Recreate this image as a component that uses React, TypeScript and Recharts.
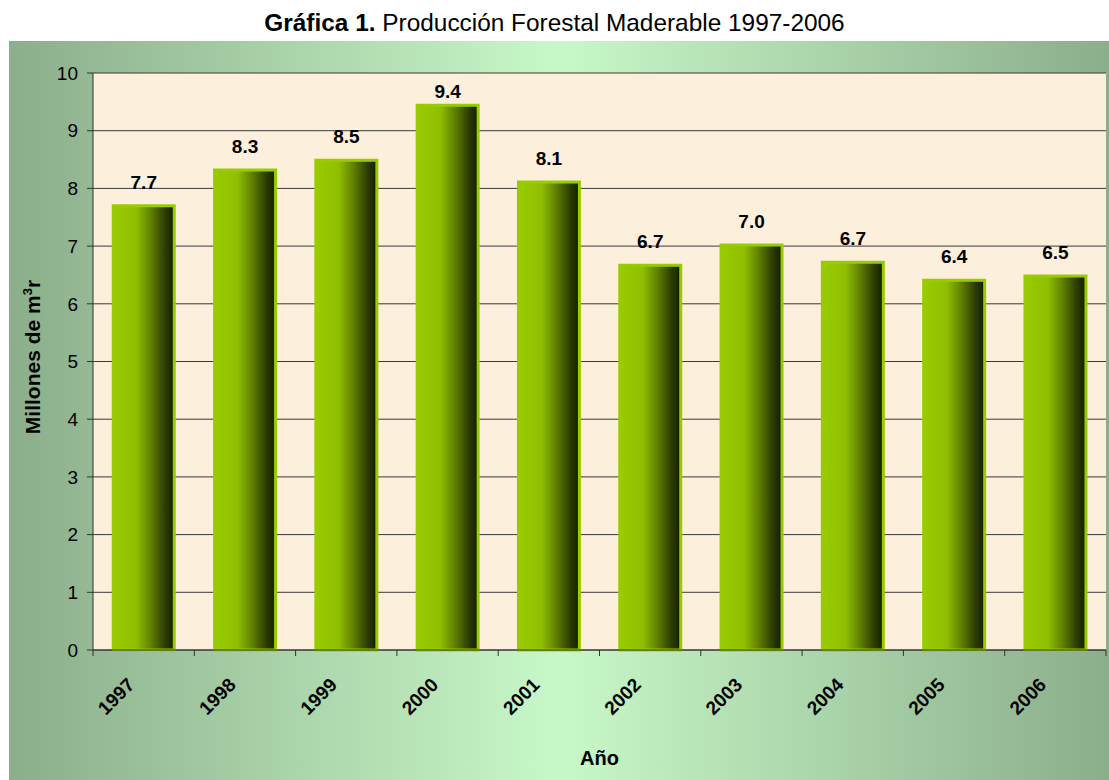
import React from "react";
import { BarChart, Bar, XAxis, YAxis, CartesianGrid, LabelList } from "recharts";

const years = ["1997", "1998", "1999", "2000", "2001", "2002", "2003", "2004", "2005", "2006"];
const production = [7.7, 8.32, 8.49, 9.44, 8.11, 6.67, 7.02, 6.72, 6.41, 6.48];
const yTicks = [0, 1, 2, 3, 4, 5, 6, 7, 8, 9, 10];

const data = years.map((year, i) => ({ year, value: production[i] }));

const FONT = "'Liberation Sans', Arial, sans-serif";
const HALF_BAND = 1013 / years.length / 2;

function YearTick(props: any) {
  const { x, y, payload, index } = props;
  const ax = x - 8;
  const ay = y + 36;
  return (
    <g>
      <line x1={x - HALF_BAND} y1={y} x2={x - HALF_BAND} y2={y + 6} stroke="#333" />
      {index === years.length - 1 && (
        <line x1={x + HALF_BAND} y1={y} x2={x + HALF_BAND} y2={y + 6} stroke="#333" />
      )}
      <text
        x={ax}
        y={ay}
        textAnchor="end"
        transform={`rotate(-45, ${ax}, ${ay})`}
        fontFamily={FONT}
        fontWeight="bold"
        fontSize={19}
        fill="#000"
      >
        {payload.value}
      </text>
    </g>
  );
}

function ValueLabel(props: any) {
  const { x, y, width, value } = props;
  // keep the label inside the plot when the bar nearly reaches the top
  const ty = Math.max(y - 17, 57);
  return (
    <text x={x + width / 2} y={ty} textAnchor="middle" fontFamily={FONT} fontWeight="bold" fontSize={19} fill="#000">
      {Number(value).toFixed(1)}
    </text>
  );
}

export default function App() {
  return (
    <div style={{ position: "absolute", left: 0, top: 0, width: 1109, height: 780, background: "#fff", fontFamily: FONT }}>
      <div style={{ position: "absolute", left: 0, top: 11, width: 1109, textAlign: "center", fontSize: 24.4, lineHeight: "24px", color: "#000" }}>
        <b>Gráfica 1.</b> Producción Forestal Maderable 1997-2006
      </div>
      <div
        style={{
          position: "absolute",
          left: 9,
          top: 41,
          width: 1100,
          height: 739,
          background: "linear-gradient(to right, #8bae8b 0%, #c8f8c8 50%, #8bae8b 100%)",
        }}
      >
        <BarChart
          width={1100}
          height={739}
          data={data}
          margin={{ top: 32, right: 3, bottom: 0, left: 0 }}
          barCategoryGap="20%"
        >
          <defs>
            <linearGradient id="barFill" x1="0" y1="0" x2="1" y2="0">
              <stop offset="0%" stopColor="#99cc00" />
              <stop offset="38%" stopColor="#8fbe00" />
              <stop offset="62%" stopColor="#5f7f00" />
              <stop offset="85%" stopColor="#2c3c00" />
              <stop offset="100%" stopColor="#141c00" />
            </linearGradient>
          </defs>
          <CartesianGrid vertical={false} stroke="#3a3a3a" fill="#fcefdc" fillOpacity={1} />
          <XAxis
            dataKey="year"
            height={130}
            axisLine={{ stroke: "#333" }}
            tickLine={false}
            tickSize={0}
            tickMargin={0}
            tick={<YearTick />}
            interval={0}
            label={{ value: "Año", position: "insideBottom", offset: 15, fontFamily: FONT, fontWeight: "bold", fontSize: 20, fill: "#000" }}
          />
          <YAxis
            width={84}
            domain={[0, 10]}
            ticks={yTicks}
            interval={0}
            axisLine={{ stroke: "#333" }}
            tickLine={{ stroke: "#333" }}
            tickSize={6}
            tickMargin={9}
            tick={{ fontFamily: FONT, fontSize: 19, fill: "#000" }}
            label={{
              content: () => (
                <text
                  x={31}
                  y={316}
                  transform="rotate(-90, 31, 316)"
                  textAnchor="middle"
                  fontFamily={FONT}
                  fontWeight="bold"
                  fontSize={21}
                  fill="#000"
                >
                  Millones de m<tspan dy={-8} fontSize={13}>3</tspan>
                  <tspan dy={8}>r</tspan>
                </text>
              ),
            }}
          />
          <Bar dataKey="value" fill="url(#barFill)" stroke="#99cc00" strokeWidth={3} isAnimationActive={false}>
            <LabelList dataKey="value" content={<ValueLabel />} />
          </Bar>
        </BarChart>
      </div>
    </div>
  );
}
